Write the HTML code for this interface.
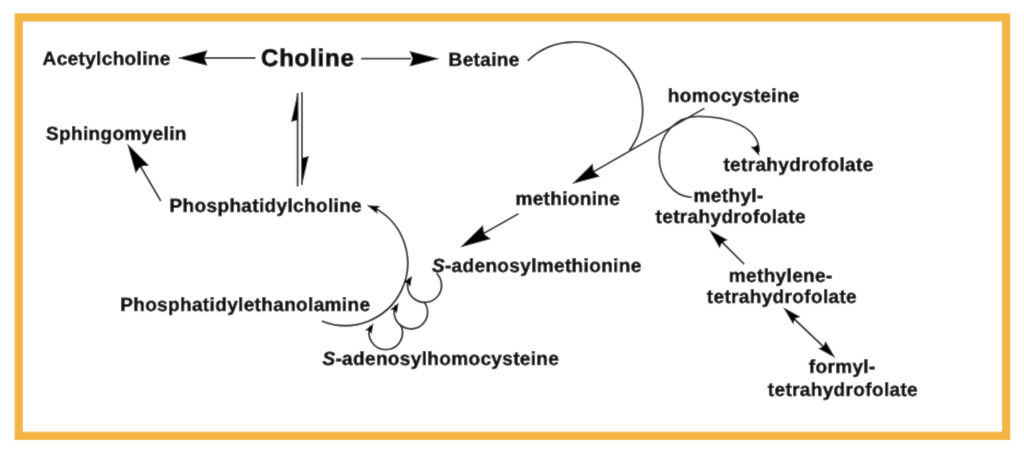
<!DOCTYPE html>
<html><head><meta charset="utf-8"><style>
html,body{margin:0;padding:0;background:#fff;width:1024px;height:455px;overflow:hidden}
svg{display:block}
text{font-family:"Liberation Sans",sans-serif;font-weight:bold;fill:#111;stroke:#111;stroke-width:0.65;text-rendering:geometricPrecision}
</style></head><body>
<svg width="1024" height="455" viewBox="0 0 1024 455">
<defs><filter id="b" filterUnits="userSpaceOnUse" x="0" y="0" width="1024" height="455"><feConvolveMatrix order="3" kernelMatrix="0.02 0.08 0.02 0.08 0.6 0.08 0.02 0.08 0.02" preserveAlpha="false"/></filter></defs>
<g filter="url(#b)">
<rect x="18.75" y="17.5" width="987.35" height="418.3" fill="#fff" stroke="#F4B642" stroke-width="8.3"/>
<line x1="205.0" y1="58.0" x2="255.5" y2="58.0" stroke="#2a2a2a" stroke-width="1.8"/>
<path d="M177.5,58.0 L207.5,65.7 L204.5,58.0 L207.5,50.3Z" fill="#000"/>
<line x1="361.0" y1="58.7" x2="411.0" y2="58.7" stroke="#2a2a2a" stroke-width="1.8"/>
<path d="M439.5,58.7 L409.5,51.0 L412.5,58.7 L409.5,66.4Z" fill="#000"/>
<line x1="297.6" y1="93.0" x2="297.6" y2="186.5" stroke="#2a2a2a" stroke-width="1.8"/>
<line x1="302.0" y1="92.0" x2="302.0" y2="185.0" stroke="#2a2a2a" stroke-width="1.8"/>
<path d="M297.6,93.0 L291.1,122.0 L297.6,120.0Z" fill="#000"/>
<path d="M302.0,185.0 L308.8,156.0 L302.0,158.0Z" fill="#000"/>
<line x1="160.8" y1="201.0" x2="138.0" y2="162.0" stroke="#2a2a2a" stroke-width="1.8"/>
<path d="M127.2,143.5 L135.6,173.3 L140.6,166.4 L149.1,165.5Z" fill="#000"/>
<path d="M527.7,60.8 A68,68 0 0 1 629.2,150.6" fill="none" stroke="#2a2a2a" stroke-width="1.8"/>
<line x1="704.5" y1="108.3" x2="590.0" y2="173.8" stroke="#2a2a2a" stroke-width="1.8"/>
<path d="M572.0,184.0 L600.0,176.6 L593.7,171.6 L592.6,163.6Z" fill="#000"/>
<line x1="518.5" y1="213.8" x2="480.0" y2="235.5" stroke="#2a2a2a" stroke-width="1.8"/>
<path d="M460.0,247.4 L490.9,239.0 L483.9,233.8 L483.0,225.1Z" fill="#000"/>
<path d="M691.8,197.3 C673,197 659.2,177 659.2,157.7 C659.2,134 676,116.4 698.4,116.4 C726,116.4 760,126 759,152" fill="none" stroke="#2a2a2a" stroke-width="1.8"/>
<path d="M759.3,156.0 L758.4,143.3 L755.1,146.4 L750.7,146.7Z" fill="#000"/>
<path d="M321.9,321.1 A62.5,62.5 0 0 0 375.6,208.5" fill="none" stroke="#2a2a2a" stroke-width="1.9"/>
<path d="M366.9,205.3 L377.5,213.9 L376.7,209.1 L380.5,206.1Z" fill="#000"/>
<path d="M436.6,273.4 A17,17 0 1 1 409.2,278.2" fill="none" stroke="#2a2a2a" stroke-width="1.9"/>
<path d="M412.1,275.7 L403.5,282.8 L407.9,283.0 L410.3,286.7Z" fill="#000"/>
<path d="M423.7,301.5 A16.7,16.7 0 1 1 395.8,305.1" fill="none" stroke="#2a2a2a" stroke-width="1.9"/>
<path d="M398.7,302.7 L390.1,309.8 L394.4,310.0 L396.8,313.7Z" fill="#000"/>
<path d="M400.1,324.2 A16.75,16.75 0 1 1 370.6,325.8" fill="none" stroke="#2a2a2a" stroke-width="1.9"/>
<path d="M373.5,323.3 L364.9,330.4 L369.2,330.6 L371.6,334.3Z" fill="#000"/>
<line x1="744.2" y1="264.2" x2="720.0" y2="240.0" stroke="#2a2a2a" stroke-width="1.8"/>
<path d="M708.8,229.4 L719.7,248.3 L722.0,242.4 L727.8,240.0Z" fill="#000"/>
<line x1="790.0" y1="315.0" x2="828.0" y2="351.0" stroke="#2a2a2a" stroke-width="1.8"/>
<path d="M783.1,307.3 L793.1,324.3 L794.9,318.8 L800.4,316.8Z" fill="#000"/>
<path d="M835.4,358.1 L825.4,341.1 L823.6,346.6 L818.1,348.6Z" fill="#000"/>
<text x="42.60" y="64.6" font-size="19" letter-spacing="0.35">Acetylcholine</text>
<text x="261.00" y="66.3" font-size="24" letter-spacing="0.8" style="stroke-width:0.9">Choline</text>
<text x="448.60" y="66.2" font-size="19" letter-spacing="0.35">Betaine</text>
<text x="46.00" y="140.2" font-size="19" letter-spacing="0.35">Sphingomyelin</text>
<text x="169.60" y="211.5" font-size="19" letter-spacing="0.35">Phosphatidylcholine</text>
<text x="120.20" y="311.0" font-size="19" letter-spacing="0.35">Phosphatidylethanolamine</text>
<text x="515.40" y="205.0" font-size="19" letter-spacing="0.35">methionine</text>
<text x="431.90" y="272.2" font-size="19" letter-spacing="0.35"><tspan font-style='italic'>S</tspan>-adenosylmethionine</text>
<text x="322.40" y="364.6" font-size="19" letter-spacing="0.35"><tspan font-style='italic'>S</tspan>-adenosylhomocysteine</text>
<text x="667.80" y="102.0" font-size="19" letter-spacing="0.35">homocysteine</text>
<text x="723.40" y="171.4" font-size="19" letter-spacing="0.35">tetrahydrofolate</text>
<text x="693.60" y="201.6" font-size="19" letter-spacing="0.35">methyl-</text>
<text x="655.60" y="222.7" font-size="19" letter-spacing="0.35">tetrahydrofolate</text>
<text x="728.80" y="281.8" font-size="19" letter-spacing="0.35">methylene-</text>
<text x="706.80" y="302.9" font-size="19" letter-spacing="0.35">tetrahydrofolate</text>
<text x="808.80" y="373.3" font-size="19" letter-spacing="0.35">formyl-</text>
<text x="767.80" y="395.6" font-size="19" letter-spacing="0.35">tetrahydrofolate</text>
</g>
</svg>
</body></html>
